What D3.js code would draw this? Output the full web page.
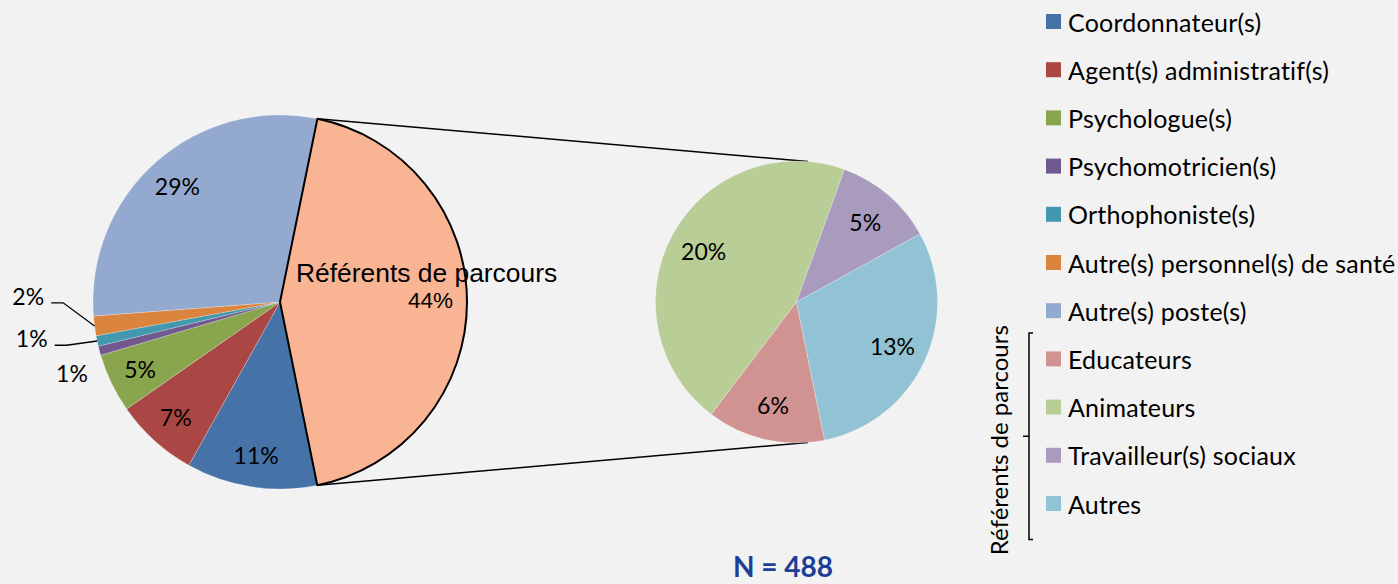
<!DOCTYPE html>
<html><head><meta charset="utf-8">
<script src="https://cdn.jsdelivr.net/npm/d3@7"></script>
<style>
html,body{margin:0;padding:0;background:#f2f2f2;}
svg{display:block;}
</style></head>
<body>
<svg id="chart" width="1398" height="584"></svg>
<script>
// ---- data ----
const mainCategories = ["Coordonnateur(s)", "Agent(s) administratif(s)", "Psychologue(s)", "Psychomotricien(s)", "Orthophoniste(s)", "Autre(s) personnel(s) de santé", "Autre(s) poste(s)", "Référents de parcours"];
const mainValues = [11.3, 7.2, 5.1, 0.8, 0.9, 1.7, 29.4, 43.6];
const subCategories = ["Educateurs", "Animateurs", "Travailleur(s) sociaux", "Autres"];
const subValues = [5.9, 19.7, 5.0, 13.0];
const bracketLabel = "Référents de parcours";
const totalLabel = "N = 488";

// ---- styles ----
const mainColors = ["#4572A7", "#AA4643", "#89A54E", "#71588F", "#4198AF", "#DB843D", "#93A9CF", "#F9B593"];
const subColors = ["#D19392", "#B9CD96", "#A99BBD", "#92C3D4"];
const FONT = "Lato, 'Open Sans', sans-serif";

const svg = d3.select("#chart");
svg.append("rect").attr("width", 1398).attr("height", 584).attr("fill", "#f2f2f2");

const deg = Math.PI / 180;
const start = 168.5 * deg;
const c1 = {x: 280, y: 302}, R1 = 187;
const c2 = {x: 796.5, y: 302}, R2 = 141;
const polar = (c, r, a) => [c.x + r * Math.sin(a), c.y - r * Math.cos(a)];

const pie = d3.pie().sort(null).value(d => d).startAngle(start).endAngle(start + 2 * Math.PI);
const mainArcs = pie(mainValues);
const subArcs = pie(subValues);

const arc1 = d3.arc().innerRadius(0).outerRadius(R1);
const arc2 = d3.arc().innerRadius(0).outerRadius(R2);

// connector lines
const ref = mainArcs[mainArcs.length - 1];
const connectAngle = 4.6 * deg;
const p1a = polar(c1, R1, ref.startAngle), p1b = polar(c1, R1, ref.endAngle);
const p2a = polar(c2, R2, connectAngle), p2b = polar(c2, R2, Math.PI - connectAngle);
svg.append("line").attr("x1", p1a[0]).attr("y1", p1a[1]).attr("x2", p2a[0]).attr("y2", p2a[1])
  .attr("stroke", "#000").attr("stroke-width", 1.5);
svg.append("line").attr("x1", p1b[0]).attr("y1", p1b[1]).attr("x2", p2b[0]).attr("y2", p2b[1])
  .attr("stroke", "#000").attr("stroke-width", 1.5);

// main pie
const g1 = svg.append("g").attr("transform", `translate(${c1.x},${c1.y})`);
g1.selectAll("path").data(mainArcs).join("path")
  .attr("d", arc1)
  .attr("fill", (d, i) => mainColors[i])
  .attr("stroke", (d, i) => i === mainArcs.length - 1 ? "#000" : "rgba(255,255,255,0.35)")
  .attr("stroke-width", (d, i) => i === mainArcs.length - 1 ? 2 : 0.7)
  .attr("stroke-linejoin", "round");
g1.selectAll("path").filter((d, i) => i === mainArcs.length - 1).raise();

// sub pie
const g2 = svg.append("g").attr("transform", `translate(${c2.x},${c2.y})`);
g2.selectAll("path").data(subArcs).join("path")
  .attr("d", arc2)
  .attr("fill", (d, i) => subColors[i])
  .attr("stroke", "rgba(255,255,255,0.35)").attr("stroke-width", 0.7);

const pct = v => Math.round(v) + "%";

// main labels
const inside = d3.arc().innerRadius(R1 * 0.83).outerRadius(R1 * 0.83);
const outsideSpec = { 3: {a: 251.1, r: 1.176, leader: false}, 4: {a: 261.7, r: 1.342, leader: true}, 5: {a: 271.4, r: 1.347, leader: true} };
mainArcs.forEach((d, i) => {
  if (i === mainArcs.length - 1) {
    const [x, y] = d3.arc().innerRadius(R1 * 0.8).outerRadius(R1 * 0.8).centroid(d);
    const t = g1.append("text").attr("text-anchor", "middle").attr("font-family", "'Liberation Sans', Arial, sans-serif").attr("fill", "#000");
    t.append("tspan").attr("x", x - 3).attr("y", y - 20).attr("font-size", 26.4).text(mainCategories[i]);
    t.append("tspan").attr("x", x + 1).attr("y", y + 6).attr("font-size", 22.5).text(pct(mainValues[i]));
    return;
  }
  let x, y;
  const spec = outsideSpec[i];
  if (spec) {
    [x, y] = [R1 * spec.r * Math.sin(spec.a * deg), -R1 * spec.r * Math.cos(spec.a * deg)];
    if (spec.leader) {
      const mid = (d.startAngle + d.endAngle) / 2;
      const e = [R1 * Math.sin(mid), -R1 * Math.cos(mid)];
      const s = [x + 23, y + 7];
      g1.append("path").attr("d", d3.line()([s, [s[0] + 12, s[1]], e]))
        .attr("fill", "none").attr("stroke", "#000").attr("stroke-width", 1.3);
    }
  } else {
    [x, y] = inside.centroid(d);
  }
  g1.append("text").attr("x", x).attr("y", y).attr("text-anchor", "middle").attr("dominant-baseline", "central")
    .attr("font-family", FONT).attr("font-size", 23).attr("fill", "#000").text(pct(mainValues[i]));
});

// sub labels
const inside2 = d3.arc().innerRadius(R2 * 0.75).outerRadius(R2 * 0.75);
subArcs.forEach((d, i) => {
  const [x, y] = inside2.centroid(d);
  g2.append("text").attr("x", x).attr("y", y).attr("text-anchor", "middle").attr("dominant-baseline", "central")
    .attr("font-family", FONT).attr("font-size", 23).attr("fill", "#000").text(pct(subValues[i]));
});

// legend
const legendItems = mainCategories.slice(0, -1).map((c, i) => ({name: c, color: mainColors[i]}))
  .concat(subCategories.map((c, i) => ({name: c, color: subColors[i]})));
const lg = svg.append("g");
legendItems.forEach((it, i) => {
  const cy = 21.5 + i * 48.2;
  lg.append("rect").attr("x", 1046).attr("y", cy - 7.5).attr("width", 15).attr("height", 15).attr("fill", it.color);
  lg.append("text").attr("x", 1068).attr("y", cy).attr("dominant-baseline", "central")
    .attr("font-family", FONT).attr("font-size", 25).attr("letter-spacing", 0.2).attr("fill", "#000").text(it.name);
});

// bracket
const by0 = 21.5 + 7 * 48.2 - 26, by1 = 21.5 + 10 * 48.2 + 36;
const bmid = (by0 + by1) / 2;
svg.append("path").attr("d", `M1033,${by0} H1029 V${by1} H1033 M1029,${bmid} H1023`)
  .attr("fill", "none").attr("stroke", "#000").attr("stroke-width", 1.5);
svg.append("text").attr("transform", `translate(998,${bmid + 4}) rotate(-90)`)
  .attr("text-anchor", "middle").attr("dominant-baseline", "central")
  .attr("font-family", FONT).attr("font-size", 24).attr("fill", "#000").text(bracketLabel);

// N
svg.append("text").attr("x", 783).attr("y", 577).attr("text-anchor", "middle")
  .attr("font-family", FONT).attr("font-weight", "bold").attr("font-size", 28).attr("fill", "#1B3F96").text(totalLabel);
</script>
</body></html>
